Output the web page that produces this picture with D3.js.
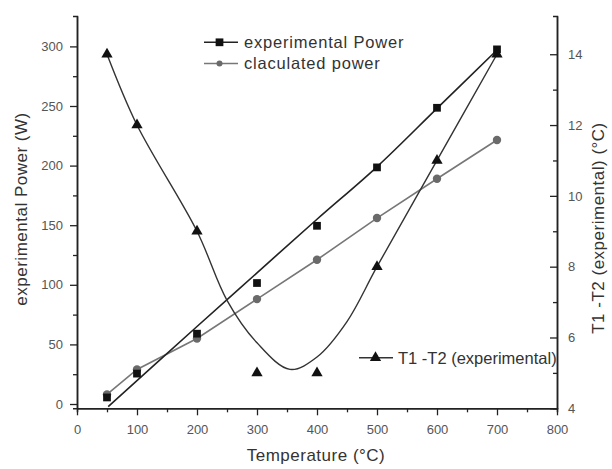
<!DOCTYPE html>
<meta charset="utf-8">
<script src="https://d3js.org/d3.v7.min.js"></script>
<style>
    body { margin: 0; background: #fff; }
    text { font-family: 'Liberation Sans', Arial, sans-serif; }
    .tick text { font-size: 13px; fill: #555; }
    .label { font-size: 17px; fill: #333; text-anchor: middle; letter-spacing: 0.5px; }
    .legend { font-size: 16.5px; fill: #333; }
    .legend.wide { letter-spacing: 0.8px; }
</style>
<div id="chart"></div>
<script>
    // values
    let temps = [50, 100, 200, 300, 400, 500, 600, 700];
    let expPower = [5.5, 25.5, 59, 101.5, 149.5, 198.5, 248.5, 297.5];
    let calcPower = [8, 29, 55, 88, 121, 156, 189, 221.5];
    let deltaT = [14, 12, 9, 5, 5, 8, 11, 14];

    // fitted curves as drawn in the figure
    let expFitT = [52, 200, 300, 400, 500, 600, 700];
    let expFitP = [-2.2, 65, 110, 155, 199, 248, 297];
    let deltaFitT = [50, 100, 200, 250, 300, 355, 400, 450, 500, 600, 700];
    let deltaFitV = [14, 12, 9, 7.05, 5.85, 5.1, 5.45, 6.45, 8, 11, 14];

    let xMajor = [0, 100, 200, 300, 400, 500, 600, 700, 800];
    let xMinor = [50, 150, 250, 350, 450, 550, 650, 750];
    let yMajor = [0, 50, 100, 150, 200, 250, 300];
    let yMinor = [25, 75, 125, 175, 225, 275];
    let rMajor = [4, 6, 8, 10, 12, 14];
    let rMinor = [5, 7, 9, 11, 13];

    let margin = {top: 16, right: 55, bottom: 60.7, left: 77},
        width = 612 - margin.left - margin.right,
        height = 469 - margin.top - margin.bottom;

    let svg = d3.select("#chart")
        .append("svg")
        .attr("width", 612)
        .attr("height", 469)
        .append("g")
        .attr("transform", "translate(" + margin.left + "," + margin.top + ")");

    let x = d3.scaleLinear().domain([0, 800]).range([0, width]);
    let yL = d3.scaleLinear().domain([-3.6, 325.5]).range([height, 0]);
    let yR = d3.scaleLinear().domain([4, 15.08]).range([height, 0]);

    function styleAxis(g) {
        g.select(".domain").attr("stroke", "#222").attr("stroke-width", 1.5);
        g.selectAll(".tick line").attr("stroke", "#222").attr("stroke-width", 1.3);
    }

    // bottom axis
    svg.append("g")
        .attr("transform", "translate(0," + height + ")")
        .call(d3.axisBottom(x).tickValues(xMajor).tickSize(7).tickSizeOuter(0).tickPadding(9))
        .call(styleAxis);
    svg.append("g")
        .attr("transform", "translate(0," + height + ")")
        .call(d3.axisBottom(x).tickValues(xMinor).tickSize(4).tickFormat(""))
        .call(styleAxis);

    // left axis
    svg.append("g")
        .call(d3.axisLeft(yL).tickValues(yMajor).tickSize(7).tickSizeOuter(0).tickPadding(7))
        .call(styleAxis);
    svg.append("g")
        .call(d3.axisLeft(yL).tickValues(yMinor).tickSize(4).tickFormat(""))
        .call(styleAxis);

    // right axis, ticks point inward
    svg.append("g")
        .attr("transform", "translate(" + width + ",0)")
        .call(d3.axisRight(yR).tickValues(rMajor).tickSize(-7).tickSizeOuter(0).tickPadding(11))
        .call(styleAxis);
    svg.append("g")
        .attr("transform", "translate(" + width + ",0)")
        .call(d3.axisRight(yR).tickValues(rMinor).tickSize(-4).tickFormat(""))
        .call(styleAxis);

    // axis titles
    svg.append("text")
        .attr("class", "label")
        .attr("x", 316 - margin.left)
        .attr("y", height + 53)
        .text("Temperature (°C)");

    svg.append("text")
        .attr("class", "label")
        .attr("transform", "rotate(-90)")
        .attr("x", -193)
        .attr("y", -50)
        .text("experimental Power (W)");

    svg.append("text")
        .attr("class", "label")
        .attr("transform", "rotate(-90)")
        .attr("x", -212)
        .attr("y", width + 47)
        .text("T1 -T2 (experimental) (°C)");

    // lines
    let expFit = expFitT.map((t, i) => [t, expFitP[i]]);
    let deltaFit = deltaFitT.map((t, i) => [t, deltaFitV[i]]);
    let calc = temps.map((t, i) => [t, calcPower[i]]);

    svg.append("path")
        .datum(calc)
        .attr("fill", "none")
        .attr("stroke", "#777")
        .attr("stroke-width", 1.6)
        .attr("d", d3.line().x(d => x(d[0])).y(d => yL(d[1])));

    svg.append("path")
        .datum(expFit)
        .attr("fill", "none")
        .attr("stroke", "#222")
        .attr("stroke-width", 1.6)
        .attr("d", d3.line().x(d => x(d[0])).y(d => yL(d[1])).curve(d3.curveCatmullRom));

    svg.append("path")
        .datum(deltaFit)
        .attr("fill", "none")
        .attr("stroke", "#333")
        .attr("stroke-width", 1.4)
        .attr("d", d3.line().x(d => x(d[0])).y(d => yR(d[1])).curve(d3.curveCatmullRom));

    // markers
    let sq = d3.symbol().type(d3.symbolSquare).size(60);
    let tri = d3.symbol().type(d3.symbolTriangle).size(55);

    svg.selectAll(".calc")
        .data(temps)
        .enter().append("circle")
        .attr("cx", d => x(d))
        .attr("cy", (d, i) => yL(calcPower[i]))
        .attr("r", 4.2)
        .attr("fill", "#6a6a6a");

    svg.selectAll(".exp")
        .data(temps)
        .enter().append("path")
        .attr("d", sq)
        .attr("transform", (d, i) => "translate(" + x(d) + "," + yL(expPower[i]) + ")")
        .attr("fill", "#111");

    svg.selectAll(".dt")
        .data(temps)
        .enter().append("path")
        .attr("d", tri)
        .attr("transform", (d, i) => "translate(" + x(d) + "," + yR(deltaT[i]) + ")")
        .attr("fill", "#111");

    // legends
    let leg = svg.append("g").attr("transform", "translate(" + (-margin.left) + "," + (-margin.top) + ")");

    leg.append("line").attr("x1", 204).attr("x2", 238).attr("y1", 42.3).attr("y2", 42.3)
        .attr("stroke", "#222").attr("stroke-width", 1.6);
    leg.append("path").attr("d", sq).attr("transform", "translate(219.5,42.3)").attr("fill", "#111");
    leg.append("text").attr("class", "legend wide").attr("x", 244).attr("y", 47.5).text("experimental Power");

    leg.append("line").attr("x1", 204).attr("x2", 238).attr("y1", 63.5).attr("y2", 63.5)
        .attr("stroke", "#777").attr("stroke-width", 1.6);
    leg.append("circle").attr("cx", 219.5).attr("cy", 63.5).attr("r", 3).attr("fill", "#6a6a6a");
    leg.append("text").attr("class", "legend wide").attr("x", 244).attr("y", 69).text("claculated power");

    leg.append("line").attr("x1", 359).attr("x2", 393).attr("y1", 357.7).attr("y2", 357.7)
        .attr("stroke", "#333").attr("stroke-width", 1.4);
    leg.append("path").attr("d", tri).attr("transform", "translate(375.5,357.7)").attr("fill", "#111");
    leg.append("text").attr("class", "legend").attr("x", 398).attr("y", 363.5).text("T1 -T2 (experimental)");
</script>
